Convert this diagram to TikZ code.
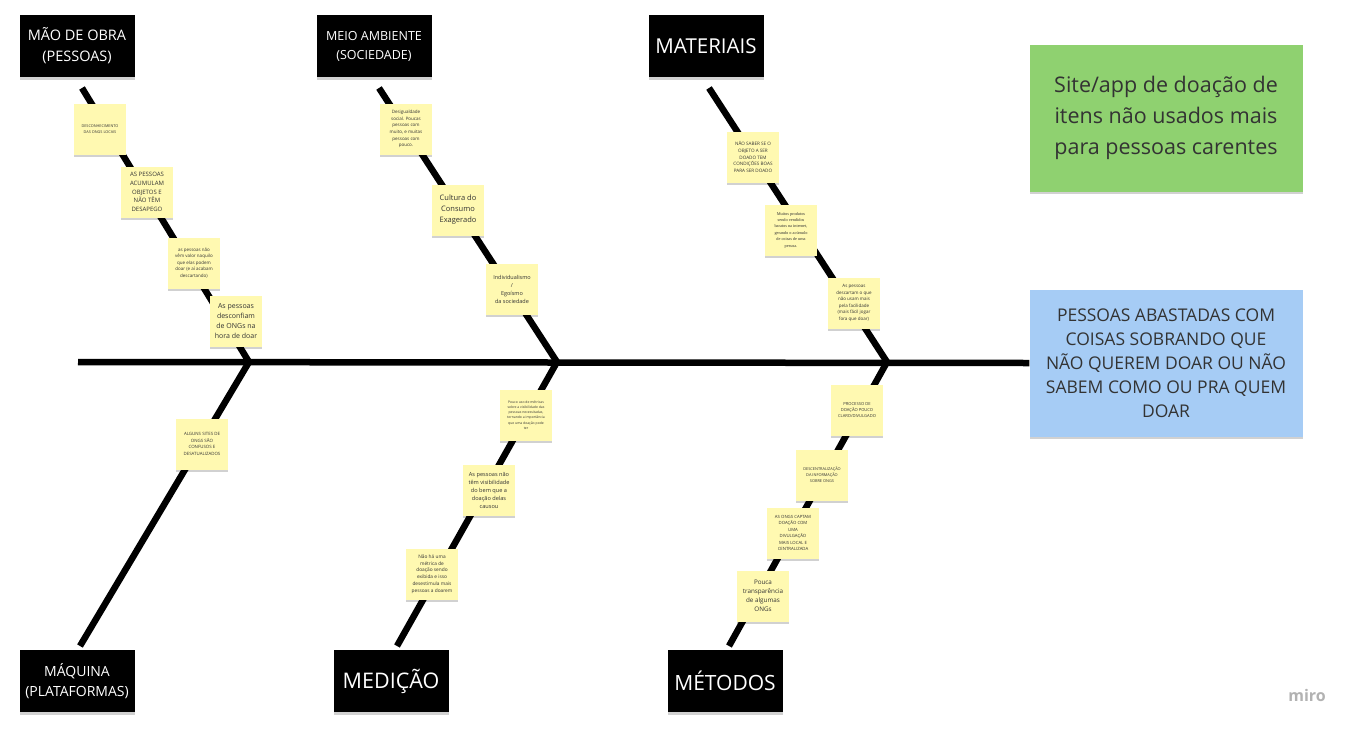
\documentclass[tikz,border=0pt]{standalone}
\usepackage{fontspec}
\setmainfont{Open Sans}
\newfontfamily\notaserif{Liberation Serif}
\usetikzlibrary{shadows}
\definecolor{amarelo}{RGB}{255,249,177}
\definecolor{verde}{RGB}{143,209,112}
\definecolor{azul}{RGB}{166,204,245}
\definecolor{tinta}{RGB}{51,51,51}
\newcommand{\tam}[2]{\fontsize{#1}{#2}\selectfont}
\tikzset{
  espinha/.style={line width=6.5pt, black, line join=miter},
  sombra/.style={drop shadow={shadow xshift=0pt, shadow yshift=-2.5pt, opacity=0.18, fill=black}},
  cabeca/.style={sombra, fill=black, text=white, minimum width=115pt, minimum height=62pt, inner sep=2pt, align=center},
  nota/.style={sombra, fill=amarelo, text=tinta, minimum width=52pt, minimum height=51pt, inner sep=1pt, align=center},
  quadro/.style={sombra, text=tinta, minimum width=273pt, minimum height=147pt, inner sep=4pt, align=center}
}
\begin{document}
\begin{tikzpicture}[x=1pt,y=-1pt]
   \useasboundingbox[fill=white] (0,0) rectangle (1360,734);
   % causa e efeito
   \node[quadro, fill=verde, font=\tam{21.5}{31}] (ideia) at (1166,118) {Site/app de doação de\\itens não usados mais\\para pessoas carentes};
   \node[quadro, fill=azul, font=\tam{17.5}{24}] (problema) at (1166,363) {PESSOAS ABASTADAS COM\\COISAS SOBRANDO QUE\\NÃO QUEREM DOAR OU NÃO\\SABEM COMO OU PRA QUEM\\DOAR};
   % espinhas
   \coordinate (ini) at (78,362);
   \coordinate (topoA) at (82,88);   \coordinate (pontaA) at (249,362); \coordinate (baseA) at (80,646);
   \coordinate (topoB) at (379,88);  \coordinate (pontaB) at (557,362); \coordinate (baseB) at (397,646);
   \coordinate (topoC) at (709,88);  \coordinate (pontaC) at (887,362); \coordinate (baseC) at (729,646);
   \draw[espinha] (ini) -- (problema.west);
   \draw[espinha] (topoA) -- (pontaA) -- (baseA);
   \draw[espinha] (topoB) -- (pontaB) -- (baseB);
   \draw[espinha] (topoC) -- (pontaC) -- (baseC);
   % categorias
   \node[cabeca, font=\tam{14.5}{21}] (maoobra) at (77,46) {MÃO DE OBRA\\(PESSOAS)};
   \node[cabeca, font=\tam{12.5}{19}] (meio) at (374,46) {MEIO AMBIENTE\\(SOCIEDADE)};
   \node[cabeca, font=\tam{20.5}{24}] (materiais) at (706,46) {MATERIAIS};
   \node[cabeca, font=\tam{14}{20}] (maquina) at (77,681) {MÁQUINA\\(PLATAFORMAS)};
   \node[cabeca, font=\tam{21.5}{24}] (medicao) at (391,681) {MEDIÇÃO};
   \node[cabeca, font=\tam{21}{24}] (metodos) at (725,681) {MÉTODOS};
   % mao de obra
   \node[nota, font=\tam{3.8}{5.5}] (mo1) at (100,129) {DESCONHECIMENTO\\DAS ONGS LOCAIS};
   \node[nota, font=\tam{6}{8.6}] (mo2) at (147,192) {AS PESSOAS\\ACUMULAM\\OBJETOS E\\NÃO TÊM\\DESAPEGO};
   \node[nota, font=\tam{4.5}{6.6}] (mo3) at (194,263) {as pessoas não\\vêm valor naquilo\\que elas podem\\doar (e aí acabam\\descartando)};
   \node[nota, font=\tam{7}{10}] (mo4) at (236,321) {As pessoas\\desconfiam\\de ONGs na\\hora de doar};
   % meio ambiente
   \node[nota, font=\tam{4.5}{6.6}] (ma1) at (406,129) {Desigualdade\\social. Poucas\\pessoas com\\muito, e muitas\\pessoas com\\pouco.};
   \node[nota, font=\tam{7.5}{11}] (ma2) at (458,210) {Cultura do\\Consumo\\Exagerado};
   \node[nota, font=\tam{5.5}{8}] (ma3) at (512,289) {Individualismo\\/\\Egoísmo\\da sociedade};
   % materiais
   \node[nota, font=\tam{4.6}{6.8}] (mt1) at (753,157) {NÃO SABER SE O\\OBJETO A SER\\DOADO TEM\\CONDIÇÕES BOAS\\PARA SER DOADO};
   \node[nota, font=\notaserif\tam{4.3}{6.4}] (mt2) at (791,230) {Muitos produtos\\sendo vendidos\\baratos na internet,\\gerando o acúmulo\\de coisas de uma\\pessoa.};
   \node[nota, font=\tam{4.5}{6.6}] (mt3) at (854,303) {As pessoas\\descartam o que\\não usam mais\\pela facilidade\\(mais fácil jogar\\fora que doar)};
   % maquina
   \node[nota, font=\tam{4.4}{6.6}] (mq1) at (202,444) {ALGUNS SITES DE\\ONGS SÃO\\CONFUSOS E\\DESATUALIZADOS};
   % medicao
   \node[nota, font=\tam{3.4}{5.2}] (md1) at (526,415) {Pouco uso de métricas\\sobre a visibilidade das\\pessoas necessitadas,\\tornando a importância\\que uma doação pode\\ter};
   \node[nota, font=\tam{5.6}{8}] (md2) at (489,490) {As pessoas não\\têm visibilidade\\do bem que a\\doação delas\\causou};
   \node[nota, font=\tam{4.8}{6.8}] (md3) at (432,574) {Não há uma\\métrica de\\doação sendo\\exibida e isso\\desestimula mais\\pessoas a doarem};
   % metodos
   \node[nota, font=\tam{4.1}{6.2}] (mt1b) at (857,410) {PROCESSO DE\\DOAÇÃO POUCO\\CLARO/DIVULGADO};
   \node[nota, font=\tam{3.9}{6}] (mt2b) at (822,475) {DESCENTRALIZAÇÃO\\DA INFORMAÇÃO\\SOBRE ONGS};
   \node[nota, font=\tam{4.3}{6.4}] (mt3b) at (793,533) {AS ONGS CAPTAM\\DOAÇÃO COM\\UMA\\DIVULGAÇÃO\\MAIS LOCAL E\\CENTRALIZADA};
   \node[nota, font=\tam{6.3}{9}] (mt4b) at (763,596) {Pouca\\transparência\\de algumas\\ONGs};
   \node[text=black!30, font=\tam{16}{16}\bfseries] (miro) at (1307,695) {miro};
\end{tikzpicture}
\end{document}
